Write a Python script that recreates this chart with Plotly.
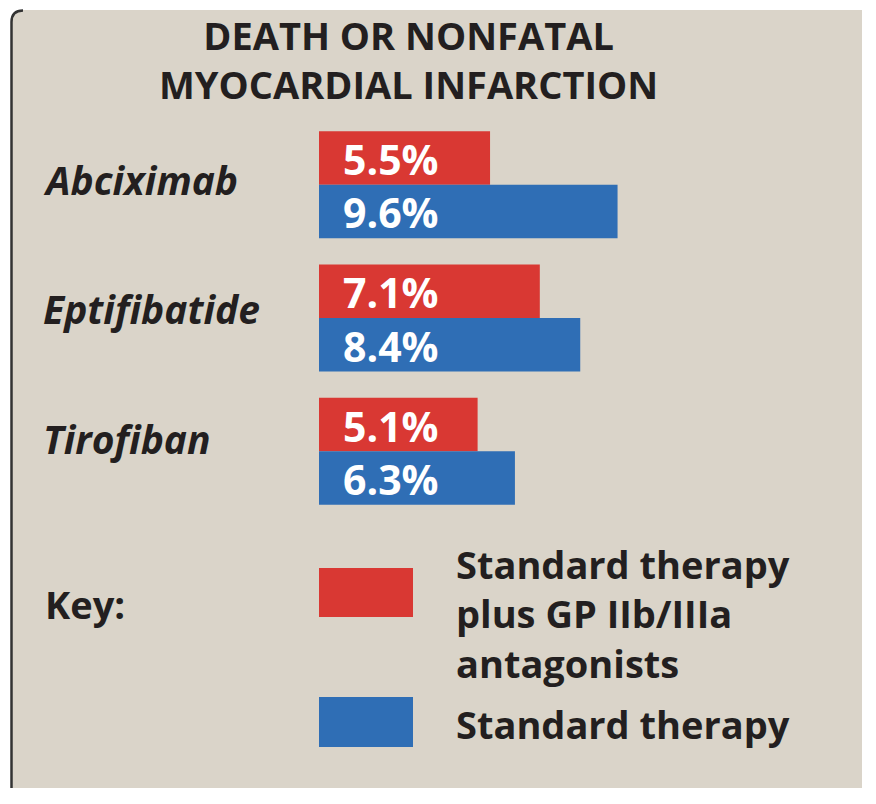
import plotly.graph_objects as go

# ---- data ----
drugs = ["Abciximab", "Eptifibatide", "Tirofiban"]
plus_gp = [5.5, 7.1, 5.1]          # Standard therapy plus GP IIb/IIIa antagonists
standard = [9.6, 8.4, 6.3]         # Standard therapy
title_lines = ["DEATH OR NONFATAL", "MYOCARDIAL INFARCTION"]
key_title = "Key:"
key_red_lines = ["Standard therapy", "plus GP IIb/IIIa", "antagonists"]
key_blue_lines = ["Standard therapy"]

# ---- style ----
RED = "#D93833"
BLUE = "#2F6EB5"
BG = "#DAD4C9"
INK = "#231F20"
FONT = "Open Sans"

W, H = 876, 804
OFF = 8  # page body margin of the browser
ML, MT, PW, PH = 311, 110, 311, 400
MR = W - ML - PW
MB = H - MT - PH


def fx(px):
    return (px - OFF - ML) / PW


def fy(py):
    return 1 - (py - OFF - MT) / PH


fig = go.Figure()
fig.add_trace(go.Bar(y=drugs, x=plus_gp, orientation="h", marker=dict(color=RED, line=dict(width=0)),
                     name="Standard therapy plus GP IIb/IIIa antagonists", hoverinfo="x+y"))
fig.add_trace(go.Bar(y=drugs, x=standard, orientation="h", marker=dict(color=BLUE, line=dict(width=0)),
                     name="Standard therapy", hoverinfo="x+y"))

annotations = []
cat_px = PH / len(drugs)
bargap = 0.1975
half = (1 - bargap) * cat_px / 4

# values inside bars
for series, sgn in ((plus_gp, 1), (standard, -1)):
    for d, v in zip(drugs, series):
        annotations.append(dict(x=0, y=d, xref="x", yref="y", text=f"{v}%", showarrow=False,
                                xanchor="left", yanchor="middle", xshift=22, yshift=sgn * half - 1,
                                font=dict(family=FONT, size=41, color="white", weight="bold")))

# category labels
label_shift = [5, 10, 13]
for d, s in zip(drugs, label_shift):
    annotations.append(dict(x=fx(41), y=d, xref="paper", yref="y", text=d, showarrow=False,
                            xanchor="left", yanchor="middle", yshift=s,
                            font=dict(family=FONT, size=39, color=INK, weight="bold", style="italic")))

# title
annotations.append(dict(x=fx(408), y=fy(60), xref="paper", yref="paper", text="<br>".join(title_lines),
                        showarrow=False, xanchor="center", yanchor="middle",
                        font=dict(family=FONT, size=38, color=INK, weight="bold")))

# key
annotations.append(dict(x=fx(43), y=fy(604), xref="paper", yref="paper", text=key_title, showarrow=False,
                        xanchor="left", yanchor="middle",
                        font=dict(family=FONT, size=38, color=INK, weight="bold")))
annotations.append(dict(x=fx(454), y=fy(613), xref="paper", yref="paper", text="<br>".join(key_red_lines),
                        showarrow=False, xanchor="left", yanchor="middle", align="left",
                        font=dict(family=FONT, size=38, color=INK, weight="bold")))
annotations.append(dict(x=fx(454), y=fy(724), xref="paper", yref="paper", text="<br>".join(key_blue_lines),
                        showarrow=False, xanchor="left", yanchor="middle", align="left",
                        font=dict(family=FONT, size=38, color=INK, weight="bold")))

shapes = [
    # panel background with rounded top-left corner
    dict(type="path", xref="paper", yref="paper", layer="below",
         path=(f"M {fx(11)},{fy(788)} L {fx(11)},{fy(22)} Q {fx(11)},{fy(10)} {fx(23)},{fy(10)} "
               f"L {fx(862)},{fy(10)} L {fx(862)},{fy(788)} Z"),
         fillcolor=BG, line=dict(width=0)),
    # left border line
    dict(type="path", xref="paper", yref="paper", layer="below",
         path=f"M {fx(11.5)},{fy(788)} L {fx(11.5)},{fy(22)} Q {fx(11.5)},{fy(10.5)} {fx(23)},{fy(10.5)}",
         line=dict(color="#333333", width=2.5)),
    # key swatches
    dict(type="rect", xref="paper", yref="paper", x0=fx(319), x1=fx(413), y0=fy(617), y1=fy(568),
         fillcolor=RED, line=dict(width=0)),
    dict(type="rect", xref="paper", yref="paper", x0=fx(319), x1=fx(413), y0=fy(747), y1=fy(697),
         fillcolor=BLUE, line=dict(width=0)),
]

fig.update_layout(
    width=W, height=H,
    margin=dict(l=ML, r=MR, t=MT, b=MB, pad=0),
    paper_bgcolor="white", plot_bgcolor="rgba(0,0,0,0)",
    barmode="group", bargap=bargap, bargroupgap=0,
    showlegend=False,
    xaxis=dict(range=[0, 10], visible=False, fixedrange=True),
    yaxis=dict(autorange="reversed", visible=False, fixedrange=True),
    annotations=annotations, shapes=shapes,
    font=dict(family=FONT, color=INK),
)

fig.write_html("out.html")
